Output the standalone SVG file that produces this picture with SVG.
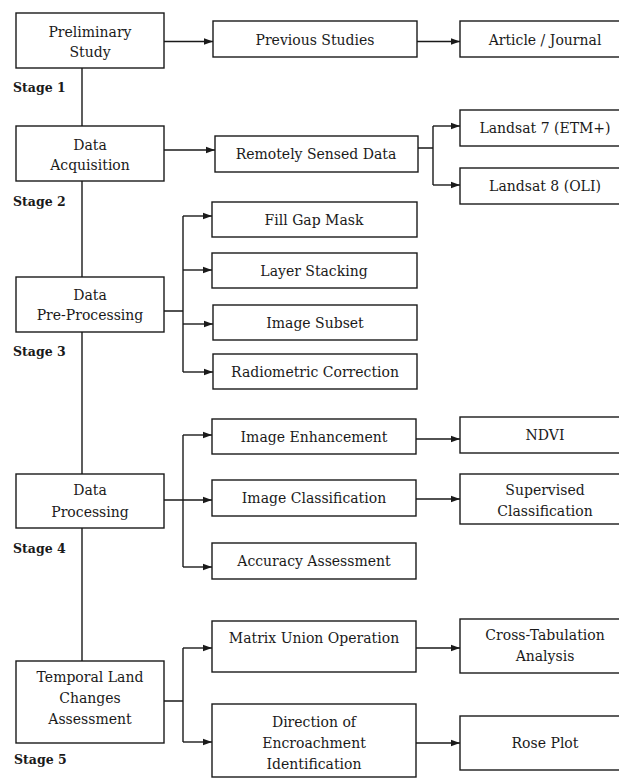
<svg xmlns="http://www.w3.org/2000/svg" width="619" height="779" viewBox="0 0 619 779">
<style>
.box{fill:#fff;stroke:#1a1a1a;stroke-width:1.4}
.t{font-family:"DejaVu Serif",serif;font-size:14px;fill:#1a1a1a;text-anchor:middle}
.st{font-family:"DejaVu Serif",serif;font-size:12.5px;font-weight:bold;fill:#1a1a1a}
.c{fill:none;stroke:#1a1a1a;stroke-width:1.4}
</style>
<defs>
<marker id="ah" markerUnits="userSpaceOnUse" markerWidth="10" markerHeight="8" refX="9" refY="4" orient="auto">
<path d="M0,0.8 L9,4 L0,7.2 Z" fill="#1a1a1a"/>
</marker>
</defs>
<rect width="619" height="779" fill="#fff"/>
<g id="connectors">
<path class="c" d="M82,68 V126 M82,181 V277 M82,332 V474 M82,528 V661"/>
<path class="c" d="M164,41.5 H213" marker-end="url(#ah)"/>
<path class="c" d="M417,41.5 H460" marker-end="url(#ah)"/>
<path class="c" d="M164,150 H215" marker-end="url(#ah)"/>
<path class="c" d="M418,148 H433 M433,126 V185"/>
<path class="c" d="M433,126 H460" marker-end="url(#ah)"/>
<path class="c" d="M433,185 H460" marker-end="url(#ah)"/>
<path class="c" d="M164,311 H183 M183,216 V372"/>
<path class="c" d="M183,216 H212" marker-end="url(#ah)"/>
<path class="c" d="M183,270 H212" marker-end="url(#ah)"/>
<path class="c" d="M183,324 H213" marker-end="url(#ah)"/>
<path class="c" d="M183,372 H213" marker-end="url(#ah)"/>
<path class="c" d="M183,435 V567"/>
<path class="c" d="M164,500 H212" marker-end="url(#ah)"/>
<path class="c" d="M183,435 H212" marker-end="url(#ah)"/>
<path class="c" d="M183,567 H212" marker-end="url(#ah)"/>
<path class="c" d="M416,439 H460" marker-end="url(#ah)"/>
<path class="c" d="M416,499 H460" marker-end="url(#ah)"/>
<path class="c" d="M164,701 H183 M183,648 V742"/>
<path class="c" d="M183,648 H212" marker-end="url(#ah)"/>
<path class="c" d="M183,742 H212" marker-end="url(#ah)"/>
<path class="c" d="M416,648 H460" marker-end="url(#ah)"/>
<path class="c" d="M416,743 H460" marker-end="url(#ah)"/>
</g>
<g id="stage1"><rect class="box" x="16" y="13" width="148" height="55"/><text class="t" x="90" y="37">Preliminary</text><text class="t" x="90" y="57">Study</text><text class="st" x="13" y="92">Stage 1</text></g>
<g id="previous"><rect class="box" x="213" y="21" width="204" height="36"/><text class="t" x="315" y="45">Previous Studies</text></g>
<g id="article"><rect class="box" x="460" y="21" width="175" height="36"/><text class="t" x="545" y="45">Article / Journal</text></g>
<g id="stage2"><rect class="box" x="16" y="126" width="148" height="55"/><text class="t" x="90" y="150">Data</text><text class="t" x="90" y="170">Acquisition</text><text class="st" x="13" y="206">Stage 2</text></g>
<g id="rsd"><rect class="box" x="215" y="136" width="203" height="36"/><text class="t" x="316" y="159">Remotely Sensed Data</text></g>
<g id="landsat7"><rect class="box" x="460" y="110" width="175" height="36"/><text class="t" x="545" y="133">Landsat 7 (ETM+)</text></g>
<g id="landsat8"><rect class="box" x="460" y="168" width="175" height="36"/><text class="t" x="545" y="191">Landsat 8 (OLI)</text></g>
<g id="stage3"><rect class="box" x="16" y="277" width="148" height="55"/><text class="t" x="90" y="300">Data</text><text class="t" x="90" y="320">Pre-Processing</text><text class="st" x="13" y="356">Stage 3</text></g>
<g id="fillgap"><rect class="box" x="212" y="202" width="205" height="35"/><text class="t" x="314" y="225">Fill Gap Mask</text></g>
<g id="layer"><rect class="box" x="212" y="253" width="205" height="35"/><text class="t" x="314" y="276">Layer Stacking</text></g>
<g id="subset"><rect class="box" x="213" y="305" width="204" height="35"/><text class="t" x="315" y="328">Image Subset</text></g>
<g id="radiometric"><rect class="box" x="213" y="354" width="204" height="35"/><text class="t" x="315" y="377">Radiometric Correction</text></g>
<g id="stage4"><rect class="box" x="16" y="474" width="148" height="54"/><text class="t" x="90" y="495">Data</text><text class="t" x="90" y="517">Processing</text><text class="st" x="13" y="553">Stage 4</text></g>
<g id="enhance"><rect class="box" x="212" y="419" width="204" height="35"/><text class="t" x="314" y="442">Image Enhancement</text></g>
<g id="classif"><rect class="box" x="212" y="480" width="204" height="36"/><text class="t" x="314" y="503">Image Classification</text></g>
<g id="accuracy"><rect class="box" x="212" y="543" width="204" height="36"/><text class="t" x="314" y="566">Accuracy Assessment</text></g>
<g id="ndvi"><rect class="box" x="460" y="417" width="175" height="36"/><text class="t" x="545" y="440">NDVI</text></g>
<g id="supervised"><rect class="box" x="460" y="474" width="175" height="50"/><text class="t" x="545" y="495">Supervised</text><text class="t" x="545" y="516">Classification</text></g>
<g id="stage5"><rect class="box" x="16" y="661" width="148" height="82"/><text class="t" x="90" y="682">Temporal Land</text><text class="t" x="90" y="703">Changes</text><text class="t" x="90" y="724">Assessment</text><text class="st" x="14" y="764">Stage 5</text></g>
<g id="matrix"><rect class="box" x="212" y="621" width="204" height="51"/><text class="t" x="314" y="643">Matrix Union Operation</text></g>
<g id="direction"><rect class="box" x="212" y="704" width="204" height="73"/><text class="t" x="314" y="727">Direction of</text><text class="t" x="314" y="748">Encroachment</text><text class="t" x="314" y="769">Identification</text></g>
<g id="crosstab"><rect class="box" x="460" y="619" width="175" height="54"/><text class="t" x="545" y="640">Cross-Tabulation</text><text class="t" x="545" y="661">Analysis</text></g>
<g id="rose"><rect class="box" x="460" y="716" width="175" height="54"/><text class="t" x="545" y="748">Rose Plot</text></g>
</svg>
